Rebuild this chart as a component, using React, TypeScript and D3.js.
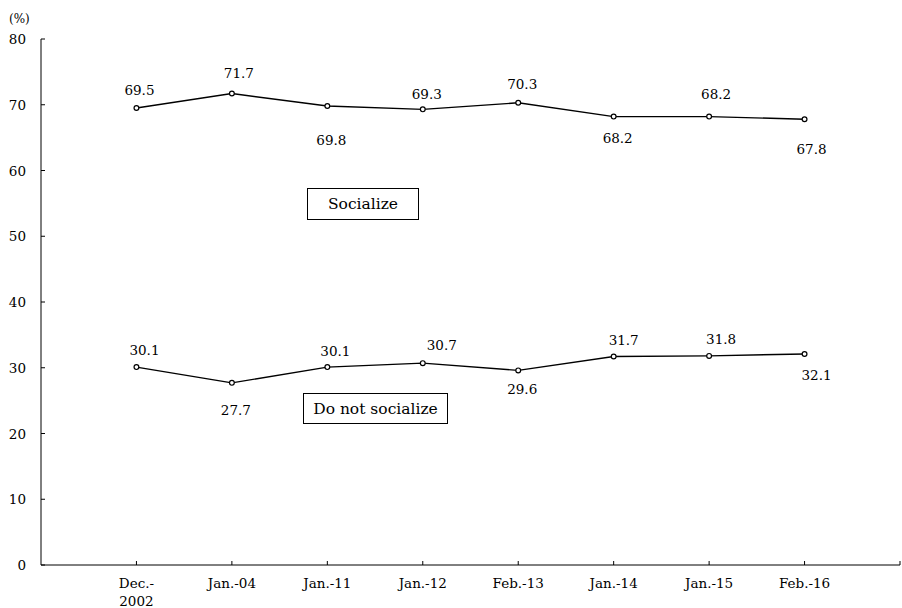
import React from "react";
import * as d3 from "d3";

const categories: string[][] = [
  ["Dec.-", "2002"],
  ["Jan.-04"],
  ["Jan.-11"],
  ["Jan.-12"],
  ["Feb.-13"],
  ["Jan.-14"],
  ["Jan.-15"],
  ["Feb.-16"],
];
const socialize = [69.5, 71.7, 69.8, 69.3, 70.3, 68.2, 68.2, 67.8];
const doNotSocialize = [30.1, 27.7, 30.1, 30.7, 29.6, 31.7, 31.8, 32.1];
const yTicks = [0, 10, 20, 30, 40, 50, 60, 70, 80];

// label placement (offsets relative to point, in px)
const socialLabelDx = [3, 7, 4, 4, 4, 4, 7, 7];
const socialLabelDy = [-18, -21, 34, -15, -19, 21, -23, 30];
const notLabelDx = [8, 4, 8, 19, 4, 10, 12, 12];
const notLabelDy = [-17, 27, -16, -18, 19, -17, -17, 21];

const W = 902;
const H = 608;
const FONT = "DejaVu Serif, serif";

export default function App() {
  const x = d3.scaleLinear().domain([0, 9]).range([41, 900]);
  const y = d3.scaleLinear().domain([0, 80]).range([565, 39]);
  const line = d3
    .line<number>()
    .x((_, i) => x(i + 1))
    .y((d) => y(d));

  const series = [
    { values: socialize, dx: socialLabelDx, dy: socialLabelDy },
    { values: doNotSocialize, dx: notLabelDx, dy: notLabelDy },
  ];
  const ts = { fontFamily: FONT };

  return (
    <svg
      width={W}
      height={H}
      style={{ position: "absolute", left: 0, top: 0, background: "#fff", fontFamily: FONT }}
    >
      <rect x={0} y={0} width={W} height={H} fill="#fff" />
      {/* y axis */}
      <line x1={x(0)} x2={x(0)} y1={y(80)} y2={y(0)} stroke="#000" strokeWidth={1} />
      {yTicks.map((t) => (
        <g key={t}>
          <line x1={x(0)} x2={x(0) + 4} y1={y(t)} y2={y(t)} stroke="#000" />
          <text
            x={26}
            y={y(t)}
            textAnchor="end"
            dominantBaseline="central"
            fontSize={13.5}
            style={ts}
          >
            {t}
          </text>
        </g>
      ))}
      <text x={9} y={19} fontSize={12} dominantBaseline="central" style={ts}>
        (%)
      </text>
      {/* x axis */}
      <line x1={x(0)} x2={x(9)} y1={y(0)} y2={y(0)} stroke="#000" strokeWidth={1} />
      {d3.range(1, 10).map((i) => (
        <line key={i} x1={x(i)} x2={x(i)} y1={y(0)} y2={y(0) - 4} stroke="#000" />
      ))}
      {categories.map((c, i) => (
        <text key={i} x={x(i + 1)} y={588} textAnchor="middle" fontSize={13.5} style={ts}>
          {c.map((l, j) => (
            <tspan key={j} x={x(i + 1)} dy={j === 0 ? 0 : 18}>
              {l}
            </tspan>
          ))}
        </text>
      ))}
      {series.map((s, si) => (
        <g key={si}>
          <path d={line(s.values) || ""} fill="none" stroke="#000" strokeWidth={1.4} />
          {s.values.map((v, i) => (
            <circle
              key={i}
              cx={x(i + 1)}
              cy={y(v)}
              r={2.4}
              fill="#fff"
              stroke="#000"
              strokeWidth={1.2}
            />
          ))}
          {s.values.map((v, i) => (
            <text
              key={"l" + i}
              x={x(i + 1) + s.dx[i]}
              y={y(v) + s.dy[i]}
              textAnchor="middle"
              dominantBaseline="central"
              fontSize={13.5}
              style={ts}
            >
              {v.toFixed(1)}
            </text>
          ))}
        </g>
      ))}
      {/* series name boxes */}
      <rect x={307.5} y={188.5} width={111} height={31} fill="#fff" stroke="#000" strokeWidth={1} />
      <text x={363} y={204} textAnchor="middle" dominantBaseline="central" fontSize={15.5} style={ts}>
        Socialize
      </text>
      <rect x={303.5} y={393.5} width={144} height={30} fill="#fff" stroke="#000" strokeWidth={1} />
      <text x={375.5} y={408.5} textAnchor="middle" dominantBaseline="central" fontSize={15.5} style={ts}>
        Do not socialize
      </text>
    </svg>
  );
}
